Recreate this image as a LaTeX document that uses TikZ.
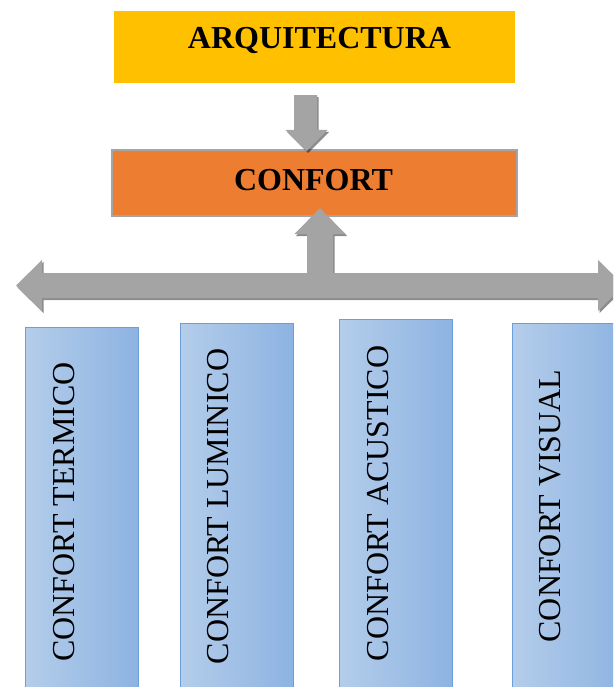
\documentclass[tikz,border=0pt]{standalone}
\usepackage{fontspec}
\setmainfont{Liberation Serif}
\usetikzlibrary{calc,shadows}

\definecolor{arqfill}{HTML}{FFC000}
\definecolor{conffill}{HTML}{ED7D31}
\definecolor{confline}{HTML}{A5A5A5}
\definecolor{blueL}{HTML}{B4CDEA}
\definecolor{blueR}{HTML}{8DB3E2}
\definecolor{blueline}{HTML}{6A9FD9}
\definecolor{arrowgray}{HTML}{A4A4A4}

\begin{document}
\begin{tikzpicture}[x=1pt,y=-1pt,
  headbox/.style={rectangle, inner sep=0pt, draw=none},
  headtext/.style={inner sep=0pt, font=\fontsize{32}{38}\selectfont\bfseries},
  kindbox/.style={rectangle, anchor=north west, inner sep=0pt,
    minimum width=113pt, minimum height=420pt, draw=blueline, line width=1pt,
    left color=blueL, right color=blueR},
  kindtext/.style={rotate=90, inner sep=0pt, font=\fontsize{32}{38}\selectfont},
  blockarrow/.style={fill=arrowgray, draw=none,
    drop shadow={shadow xshift=1.5pt, shadow yshift=-2pt, opacity=0.45, fill=black}}]

\useasboundingbox (0,0) rectangle (613,687);
\clip (0,0) rectangle (613,687);

% title boxes
\node[headbox, fill=arqfill, minimum width=401pt, minimum height=72pt] (arq) at (314.5,47) {};
\node[headbox, fill=conffill, draw=confline, line width=2pt,
      minimum width=405pt, minimum height=66pt] (conf) at (314.5,183) {};

% arrow from ARQUITECTURA down to CONFORT
\coordinate (dtip) at ($(conf.north)+(-8,2)$);
\coordinate (dtail) at ($(arq.south)+(-8,12)$);
\fill[blockarrow] ($(dtail)+(-12.5,0)$) -- ($(dtail)+(10.5,0)$)
  -- ($(dtip)+(10.5,-21)$) -- ($(dtip)+(21,-21)$) -- (dtip)
  -- ($(dtip)+(-21,-21)$) -- ($(dtip)+(-12.5,-21)$) -- cycle;

% the four kinds of comfort
\node[kindbox] (k1) at (24.5,326.5) {};
\node[kindbox] (k2) at (179.5,322.5) {};
\node[kindbox] (k3) at (338.5,318.5) {};
\node[kindbox] (k4) at (511.5,322.5) {};

% horizontal bar joining the kinds, and the arrow up to CONFORT
\coordinate (barL) at (16,285.5);
\coordinate (barR) at (624,285.5);
\coordinate (utip) at ($(conf.south)+(5.5,-9)$);
\coordinate (ubase) at (320,280);

\fill[blockarrow] ($(ubase)+(-13,0)$) -- ($(utip)+(-13,26)$) -- ($(utip)+(-25.5,26)$)
  -- (utip) -- ($(utip)+(25.5,26)$) -- ($(utip)+(13,26)$) -- ($(ubase)+(13,0)$) -- cycle;

\fill[blockarrow] (barL) -- ($(barL)+(26,-25.5)$) -- ($(barL)+(26,-12.5)$)
  -- ($(barR)+(-26,-12.5)$) -- ($(barR)+(-26,-25.5)$) -- (barR)
  -- ($(barR)+(-26,25.5)$) -- ($(barR)+(-26,12.5)$) -- ($(barL)+(26,12.5)$)
  -- ($(barL)+(26,25.5)$) -- cycle;

% texts
\node[headtext] (arqt) at (319.5,40.5) {ARQUITECTURA};
\node[headtext] (conft) at (313.5,180) {CONFORT};
\node[kindtext] (k1t) at (64,512) {CONFORT TERMICO};
\node[kindtext] (k2t) at (218.5,506.5) {CONFORT LUMINICO};
\node[kindtext] (k3t) at (378,503.5) {CONFORT ACUSTICO};
\node[kindtext] (k4t) at (550.5,506) {CONFORT VISUAL};
\end{tikzpicture}
\end{document}
